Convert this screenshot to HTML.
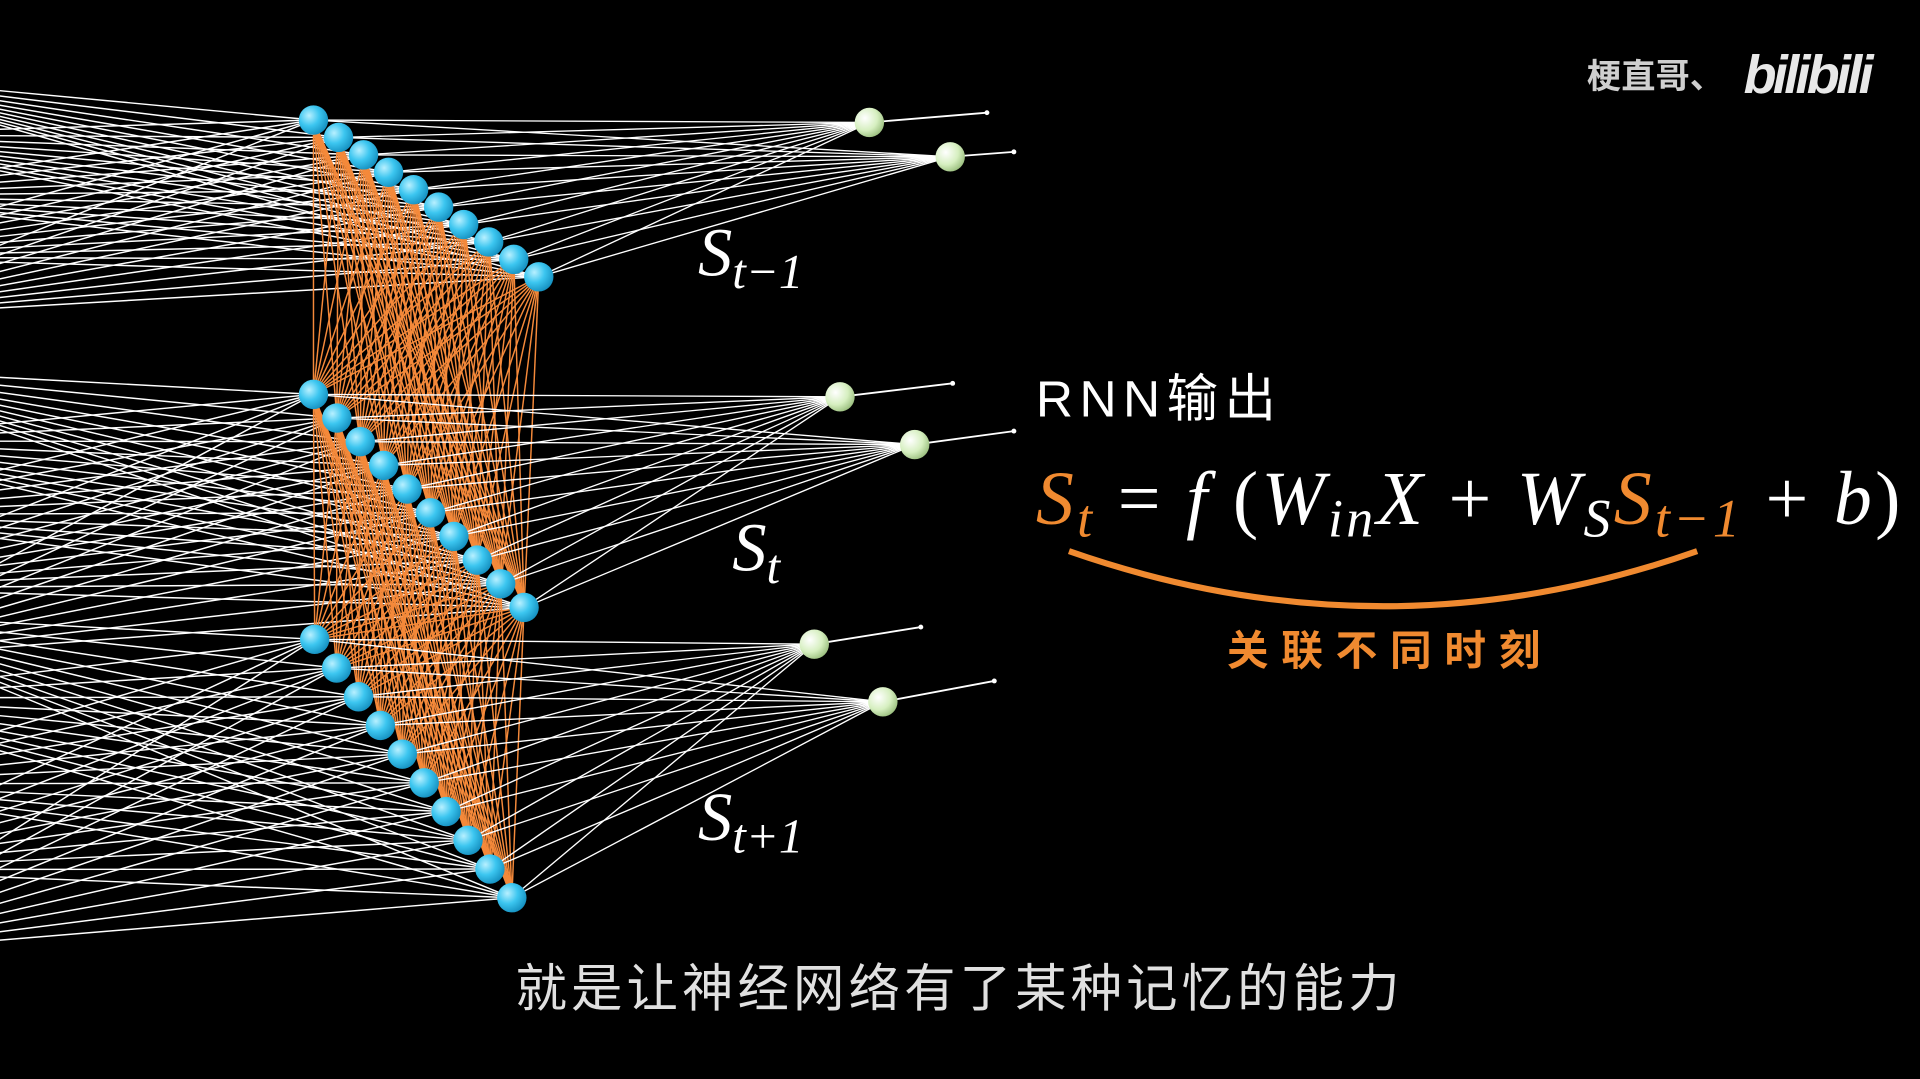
<!DOCTYPE html>
<html><head><meta charset="utf-8">
<style>
html,body{margin:0;padding:0;background:#000;}
svg{display:block;}
</style></head>
<body>
<svg id="scene" width="1920" height="1079" viewBox="0 0 1568 881" preserveAspectRatio="none" xmlns="http://www.w3.org/2000/svg">
<defs>
<radialGradient id="gb" cx="0.35" cy="0.35" r="0.7"><stop offset="0" stop-color="#b8f0ff"/><stop offset="0.5" stop-color="#3cc6f0"/><stop offset="1" stop-color="#1590c0"/></radialGradient>
<radialGradient id="gg" cx="0.35" cy="0.35" r="0.7"><stop offset="0" stop-color="#ffffff"/><stop offset="0.6" stop-color="#d6efc0"/><stop offset="1" stop-color="#9cc080"/></radialGradient>
</defs>
<rect width="1568" height="881" fill="#000"/>
<g id="lines-in"></g><g id="lines-rec"></g><g id="lines-out"></g><g id="nodes"></g>
<text x="570" y="225" fill="#fff" font-family="Liberation Serif, serif" font-style="italic" font-size="56">S<tspan font-size="40" dy="10">t−1</tspan></text>
<text x="598" y="466" fill="#fff" font-family="Liberation Serif, serif" font-style="italic" font-size="56">S<tspan font-size="40" dy="10">t</tspan></text>
<text x="570" y="686" fill="#fff" font-family="Liberation Serif, serif" font-style="italic" font-size="56">S<tspan font-size="40" dy="10">t+1</tspan></text>
<text x="846" y="340" fill="#fff" font-family="Liberation Sans, Noto Sans CJK SC, sans-serif" font-size="42" textLength="196">RNN输出</text>
<text x="846" y="428" fill="#fff" font-family="Liberation Serif, serif" font-style="italic" font-size="62" textLength="706" lengthAdjust="spacing"><tspan fill="#f08a30">S<tspan font-size="44" dy="10">t</tspan></tspan><tspan dy="-10" font-style="normal"> = </tspan>f<tspan font-style="normal"> (</tspan>W<tspan font-size="44" dy="10">in</tspan><tspan dy="-10">X</tspan><tspan font-style="normal"> + </tspan>W<tspan font-size="44" dy="10">S</tspan><tspan dy="-10" fill="#f08a30">S<tspan font-size="44" dy="10">t−1</tspan></tspan><tspan dy="-10" font-style="normal"> + </tspan>b<tspan font-style="normal">)</tspan></text>
<path d="M873 450 Q1130 540 1386 450" stroke="#f08a30" stroke-width="5" fill="none"/>
<text x="1002" y="543" fill="#f08a30" font-family="Liberation Sans, Noto Sans CJK SC, sans-serif" font-size="34" font-weight="bold" textLength="256" lengthAdjust="spacing">关联不同时刻</text>
<text x="421" y="822" fill="#e0e0e0" font-family="Liberation Sans, Noto Sans CJK SC, sans-serif" font-size="42" textLength="722" lengthAdjust="spacing">就是让神经网络有了某种记忆的能力</text>
<text x="1296" y="72" fill="#cfcfcf" font-family="Liberation Sans, Noto Sans CJK SC, sans-serif" font-size="28" font-weight="bold">梗直哥、</text>
<text x="1424" y="76" fill="#e8e8e8" font-family="Liberation Sans, sans-serif" font-size="44" font-weight="bold" font-style="italic" letter-spacing="-3">bilibili</text>
</svg>
<script>
// layer endpoints (first node, last node) in viewBox units
const layerStart = [[256,98],[256,322],[257,522]];
const layerEnd = [[440,226],[428,496],[418,733]];
const nodeCount = 10;
const outA = [[710,100],[686,324],[665,526]];
const outB = [[776,128],[747,363],[721,573]];
const arrowA = [[806,92],[778,313],[752,512]];
const arrowB = [[828,124],[828,352],[812,556]];
const inputYs = [[60,110,160,210,260],[300,360,420,480,540],[500,570,640,710,780]];
const NS='http://www.w3.org/2000/svg';
function mk(tag,attrs,parent){const e=document.createElementNS(NS,tag);for(const k in attrs)e.setAttribute(k,attrs[k]);parent.appendChild(e);return e;}
const gIn=document.getElementById('lines-in'),gRec=document.getElementById('lines-rec'),gOut=document.getElementById('lines-out'),gN=document.getElementById('nodes');
const layers=layerStart.map((s,i)=>{const e=layerEnd[i];const a=[];for(let k=0;k<nodeCount;k++){const t=k/(nodeCount-1);a.push([s[0]+(e[0]-s[0])*t,s[1]+(e[1]-s[1])*t]);}return a;});
for(let l=0;l<2;l++){for(const p of layers[l])for(const q of layers[l+1]){
 const ln=mk('line',{x1:p[0],y1:p[1],x2:q[0],y2:q[1],stroke:'#f4893a','stroke-width':1.2},gRec);
 
 
}}
layers.forEach((L,i)=>{
 for(const y of inputYs[i])for(const p of L){
  const ln=mk('line',{x1:-150,y1:y,x2:p[0],y2:p[1],stroke:'#fff','stroke-width':1.2},gIn);
  
  
 }
 for(const o of [outA[i],outB[i]])for(const p of L){
  const ln=mk('line',{x1:p[0],y1:p[1],x2:o[0],y2:o[1],stroke:'#fff','stroke-width':1.1},gOut);
  
  
 }
 [[outA[i],arrowA[i]],[outB[i],arrowB[i]]].forEach(([o,a])=>{
  const ar=mk('line',{x1:o[0],y1:o[1],x2:a[0],y2:a[1],stroke:'#fff','stroke-width':1.5},gOut);
  
  
  const hd=mk('circle',{cx:a[0],cy:a[1],r:2,fill:'#fff'},gOut);
  
  
 });
 L.forEach(p=>{
  const c=mk('circle',{cx:p[0],cy:p[1],r:12,fill:'url(#gb)'},gN);
  
  
 });
 [outA[i],outB[i]].forEach(o=>{
  const c=mk('circle',{cx:o[0],cy:o[1],r:12,fill:'url(#gg)'},gN);
  
  
 });
});
</script>
</body></html>
